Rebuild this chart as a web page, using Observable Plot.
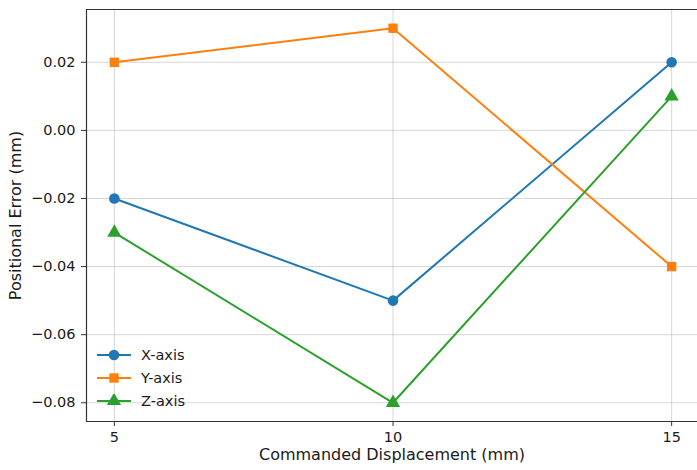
<!DOCTYPE html>
<html>
<head>
<meta charset="utf-8">
<script src="https://cdn.jsdelivr.net/npm/d3@7"></script>
<script src="https://cdn.jsdelivr.net/npm/@observablehq/plot@0.6"></script>
<style>
  html, body { margin: 0; padding: 0; background: #fff; }
  #wrap { position: relative; width: 697px; height: 470px; }
  #legend { position: absolute; left: 96px; top: 343px; font-family: "DejaVu Sans", sans-serif; font-size: 14.5px; color: #1a1a1a; }
  #legend .row { display: flex; align-items: center; height: 23px; }
  #legend svg { margin-right: 9px; }
  g[aria-label="x-axis tick label"] text, g[aria-label="y-axis tick label"] text { font-size: 14.5px; }
  g[aria-label="x-axis label"] text, g[aria-label="y-axis label"] text { font-size: 16px; }
</style>
</head>
<body>
<div id="wrap"><div id="legend"></div></div>
<script>
const displacement = [5, 10, 15];
const xAxisErr = [-0.02, -0.05, 0.02];
const yAxisErr = [0.02, 0.03, -0.04];
const zAxisErr = [-0.03, -0.08, 0.01];
const seriesNames = ["X-axis", "Y-axis", "Z-axis"];
const seriesColors = ["#1f77b4", "#ff7f0e", "#2ca02c"];
const seriesSymbols = ["circle", "square", "triangle"];
const yTicks = [-0.08, -0.06, -0.04, -0.02, 0.00, 0.02];
const xTicks = [5, 10, 15];
const xDomain = [4.5, 15.464];
const yDomain = [-0.0855, 0.0355];

const values = [xAxisErr, yAxisErr, zAxisErr];
const data = [];
seriesNames.forEach((s, i) => displacement.forEach((d, j) => data.push({series: s, x: d, y: values[i][j]})));

const chart = Plot.plot({
  width: 697,
  height: 470,
  marginLeft: 86,
  marginRight: 0,
  marginTop: 9,
  marginBottom: 49,
  style: {fontFamily: "DejaVu Sans, sans-serif", fontSize: "14.5px", color: "#1a1a1a", background: "#fff"},
  x: {domain: xDomain},
  y: {domain: yDomain},
  color: {domain: seriesNames, range: seriesColors},
  symbol: {domain: seriesNames, range: seriesSymbols},
  marks: [
    Plot.gridX(xTicks, {stroke: "#b0b0b0", strokeOpacity: 0.5, strokeWidth: 1}),
    Plot.gridY(yTicks, {stroke: "#b0b0b0", strokeOpacity: 0.5, strokeWidth: 1}),
    Plot.ruleX([xDomain[0]], {stroke: "#333", strokeWidth: 1.2}),
    Plot.ruleY([yDomain[0], yDomain[1]], {stroke: "#333", strokeWidth: 1.2}),
    Plot.axisX(xTicks, {tickSize: 5, tickPadding: 5, stroke: "#333", fontSize: 14.5, label: "Commanded Displacement (mm)", labelAnchor: "center", labelArrow: "none", labelOffset: 38}),
    Plot.axisY(yTicks, {tickSize: 5, tickPadding: 6, stroke: "#333", fontSize: 14.5, tickFormat: d3.format(".2f"), label: "Positional Error (mm)", labelAnchor: "center", labelArrow: "none", labelOffset: 77}),
    Plot.line(data, {x: "x", y: "y", z: "series", stroke: "series", strokeWidth: 2}),
    Plot.dot(data, {x: "x", y: "y", fill: "series", symbol: "series", r: 5.3, stroke: "none"})
  ]
});
document.getElementById("wrap").prepend(chart);

const legend = document.getElementById("legend");
seriesNames.forEach((s, i) => {
  const row = document.createElement("div");
  row.className = "row";
  const sym = d3.symbol(seriesSymbols[i] === "circle" ? d3.symbolCircle : seriesSymbols[i] === "square" ? d3.symbolSquare : d3.symbolTriangle, 88)();
  row.innerHTML = `<svg width="36" height="14"><line x1="1" x2="35" y1="7" y2="7" stroke="${seriesColors[i]}" stroke-width="2"/><path transform="translate(18,7)" d="${sym}" fill="${seriesColors[i]}"/></svg><span>${s}</span>`;
  legend.appendChild(row);
});
</script>
</body>
</html>
